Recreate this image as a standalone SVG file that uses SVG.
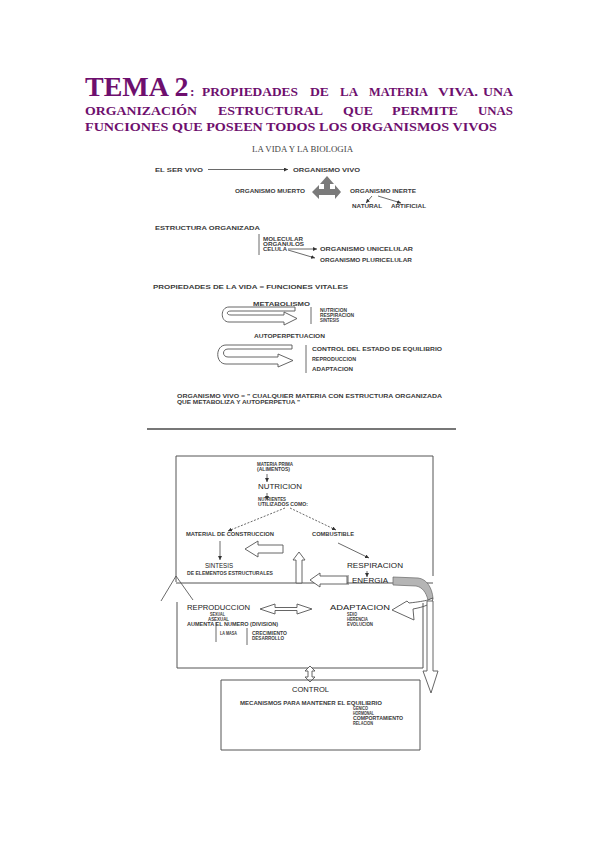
<svg xmlns="http://www.w3.org/2000/svg" width="599" height="848" viewBox="0 0 599 848">
<defs>
<style>
.tt{font-family:"Liberation Serif",serif;font-weight:bold;fill:#6e0f6e}
.s{font-family:"Liberation Sans",Arial,sans-serif;font-weight:bold;fill:#3a3a3a;font-size:6px}
.n{font-family:"Liberation Sans",Arial,sans-serif;fill:#222;font-size:8px}
.ln{stroke:#444;stroke-width:0.8;fill:none}
.bx{stroke:#555;stroke-width:1;fill:none}
.ho{stroke:#555;stroke-width:0.9;fill:#fff}
</style>
<marker id="ah" viewBox="0 0 6 6" refX="6" refY="3" markerWidth="4" markerHeight="4" orient="auto" markerUnits="userSpaceOnUse"><path d="M0,0L6,3L0,6z" fill="#333"/></marker>
</defs>
<rect width="599" height="848" fill="#fff"/>

<g id="title">
<text class="tt" x="85" y="96" font-size="28">TEMA 2</text>
<text class="tt" font-size="13.5" y="96"><tspan x="190">:</tspan><tspan x="202" textLength="96" lengthAdjust="spacingAndGlyphs">PROPIEDADES</tspan><tspan x="310" textLength="19" lengthAdjust="spacingAndGlyphs">DE</tspan><tspan x="340" textLength="18" lengthAdjust="spacingAndGlyphs">LA</tspan><tspan x="369" textLength="59" lengthAdjust="spacingAndGlyphs">MATERIA</tspan><tspan x="438" textLength="40" lengthAdjust="spacingAndGlyphs">VIVA.</tspan><tspan x="483" textLength="30" lengthAdjust="spacingAndGlyphs">UNA</tspan></text>
<text class="tt" font-size="13.5" y="115"><tspan x="85" textLength="112" lengthAdjust="spacingAndGlyphs">ORGANIZACIÓN</tspan><tspan x="218" textLength="105" lengthAdjust="spacingAndGlyphs">ESTRUCTURAL</tspan><tspan x="343" textLength="30" lengthAdjust="spacingAndGlyphs">QUE</tspan><tspan x="392" textLength="66" lengthAdjust="spacingAndGlyphs">PERMITE</tspan><tspan x="478" textLength="35" lengthAdjust="spacingAndGlyphs">UNAS</tspan></text>
<text class="tt" font-size="13.5" x="85" y="131" textLength="412" lengthAdjust="spacingAndGlyphs">FUNCIONES QUE POSEEN TODOS LOS ORGANISMOS VIVOS</text>
</g>

<g id="connectors">
<line class="ln" x1="208" y1="169.5" x2="288" y2="169.5" marker-end="url(#ah)"/>
<line class="ln" x1="372" y1="196" x2="366" y2="203" marker-end="url(#ah)"/>
<line class="ln" x1="378" y1="196" x2="401" y2="203" marker-end="url(#ah)"/>
<line class="ln" x1="259" y1="234" x2="259" y2="255"/>
<line class="ln" x1="288" y1="249" x2="317" y2="249" marker-end="url(#ah)"/>
<line class="ln" x1="288" y1="250" x2="315" y2="258" marker-end="url(#ah)"/>
<line class="ln" x1="311" y1="307" x2="311" y2="324"/>
<line class="ln" x1="306" y1="345" x2="306" y2="373"/>
<line x1="147" y1="429" x2="456" y2="429" stroke="#777" stroke-width="2"/>
<line class="ln" x1="267" y1="474" x2="267" y2="482" marker-end="url(#ah)"/>
<line class="ln" x1="267" y1="493" x2="267" y2="500" marker-end="url(#ah)"/>
<line class="ln" x1="285" y1="508" x2="228" y2="531" stroke-dasharray="2,1.5" marker-end="url(#ah)"/>
<line class="ln" x1="290" y1="508" x2="336" y2="530" stroke-dasharray="2,1.5" marker-end="url(#ah)"/>
<line class="ln" x1="220" y1="541" x2="220" y2="560" marker-end="url(#ah)"/>
<line class="ln" x1="338" y1="543" x2="369" y2="558" marker-end="url(#ah)"/>
<line class="ln" x1="367" y1="571" x2="367" y2="577" marker-end="url(#ah)"/>
<line class="ln" x1="348" y1="575" x2="348" y2="585"/>
<line class="ln" x1="216" y1="622" x2="216" y2="642"/>
<line class="ln" x1="247" y1="628" x2="247" y2="645"/>
<line class="ln" x1="176" y1="576" x2="161" y2="601"/>
<line class="ln" x1="176" y1="576" x2="193" y2="600"/>
</g>

<g id="fig1">
<text x="252" y="152" font-family="Liberation Serif,serif" font-size="8" fill="#444" textLength="101" lengthAdjust="spacingAndGlyphs">LA VIDA Y LA BIOLOGIA</text>
<g id="n-servivo"><text class="s" x="155" y="172" textLength="48" lengthAdjust="spacingAndGlyphs">EL SER VIVO</text></g>
<g id="n-orgvivo"><text class="s" x="293" y="172" textLength="67" lengthAdjust="spacingAndGlyphs">ORGANISMO VIVO</text></g>
<g id="cross"><path d="M327,176L334,184L330,184L330,189L335,189L335,185L341,192L335,199L335,195L319,195L319,199L312,192L319,185L319,189L324,189L324,184L320,184Z" fill="#7a7a7a"/></g>
<g id="n-muerto"><text class="s" x="235" y="193" textLength="70" lengthAdjust="spacingAndGlyphs">ORGANISMO MUERTO</text></g>
<g id="n-inerte"><text class="s" x="350" y="193" textLength="66" lengthAdjust="spacingAndGlyphs">ORGANISMO INERTE</text></g>
<g id="n-natural"><text class="s" x="352" y="208" textLength="30" lengthAdjust="spacingAndGlyphs">NATURAL</text></g>
<g id="n-artificial"><text class="s" x="391" y="208" textLength="35" lengthAdjust="spacingAndGlyphs">ARTIFICIAL</text></g>
<g id="n-estructura"><text class="s" x="155" y="230" textLength="105" lengthAdjust="spacingAndGlyphs">ESTRUCTURA ORGANIZADA</text></g>
<g id="n-niveles">
<text class="s" x="263" y="241" textLength="40" lengthAdjust="spacingAndGlyphs">MOLECULAR</text>
<text class="s" x="263" y="246" textLength="41" lengthAdjust="spacingAndGlyphs">ORGANULOS</text>
<text class="s" x="263" y="251" textLength="24" lengthAdjust="spacingAndGlyphs">CELULA</text>
</g>
<g id="n-uni"><text class="s" x="320" y="251" textLength="93" lengthAdjust="spacingAndGlyphs">ORGANISMO UNICELULAR</text></g>
<g id="n-pluri"><text class="s" x="320" y="262" textLength="92" lengthAdjust="spacingAndGlyphs">ORGANISMO PLURICELULAR</text></g>
<g id="n-propiedades"><text class="s" x="153" y="289" textLength="195" lengthAdjust="spacingAndGlyphs">PROPIEDADES DE LA VIDA  =  FUNCIONES VITALES</text></g>
<g id="n-metabolismo">
<text class="s" x="253" y="306" font-size="7" textLength="57" lengthAdjust="spacingAndGlyphs">METABOLISMO</text>
<path class="ho" d="M295,307L229,307C220,307 220,322 229,322L284,322L284,325L297,318.5L284,312L284,315L231,315C226,315 226,311 231,311L295,311Z" stroke="#888"/>
<text class="s" x="320" y="312" font-size="5" textLength="27" lengthAdjust="spacingAndGlyphs">NUTRICION</text>
<text class="s" x="320" y="317" font-size="5" textLength="34" lengthAdjust="spacingAndGlyphs">RESPIRACION</text>
<text class="s" x="320" y="322" font-size="5" textLength="19" lengthAdjust="spacingAndGlyphs">SINTESIS</text>
</g>
<g id="n-autoperpetuacion">
<text class="s" x="254" y="338" font-size="7" textLength="71" lengthAdjust="spacingAndGlyphs">AUTOPERPETUACION</text>
<path class="ho" d="M292,345L226,345C215,345 215,364 226,364L278,364L278,367L293,360.5L278,354L278,357L228,357C222,357 222,349 228,349L292,349Z" stroke="#888"/>
<text class="s" x="312" y="351" textLength="130" lengthAdjust="spacingAndGlyphs">CONTROL  DEL  ESTADO DE EQUILIBRIO</text>
<text class="s" x="312" y="361" textLength="44" lengthAdjust="spacingAndGlyphs">REPRODUCCION</text>
<text class="s" x="312" y="371" textLength="41" lengthAdjust="spacingAndGlyphs">ADAPTACION</text>
</g>
<g id="n-definicion">
<text class="s" x="177" y="398" textLength="265" lengthAdjust="spacingAndGlyphs">ORGANISMO VIVO = " CUALQUIER MATERIA CON ESTRUCTURA ORGANIZADA</text>
<text class="s" x="177" y="404" textLength="123" lengthAdjust="spacingAndGlyphs">QUE   METABOLIZA Y AUTOPERPETUA "</text>
</g>
</g>

<g id="fig2">
<g id="box1"><path class="bx" d="M176,582L176,456L433,456L433,576M176,583L433,583"/></g>
<g id="n-materia">
<text class="s" x="257" y="466" font-size="5" textLength="36" lengthAdjust="spacingAndGlyphs">MATERIA PRIMA</text>
<text class="s" x="257" y="471" font-size="5" textLength="33" lengthAdjust="spacingAndGlyphs">(ALIMENTOS)</text>
</g>
<g id="n-nutricion"><text class="n" x="258" y="489" textLength="44" lengthAdjust="spacingAndGlyphs">NUTRICION</text></g>
<g id="n-nutrientes">
<text class="s" x="258" y="501" font-size="5" textLength="28" lengthAdjust="spacingAndGlyphs">NUTRIENTES</text>
<text class="s" x="258" y="506" font-size="5" textLength="50" lengthAdjust="spacingAndGlyphs">UTILIZADOS COMO:</text>
</g>
<g id="n-material"><text class="s" x="186" y="536" font-size="5.5" textLength="88" lengthAdjust="spacingAndGlyphs">MATERIAL DE CONSTRUCCION</text></g>
<g id="n-combustible"><text class="s" x="312" y="536" font-size="5.5" textLength="42" lengthAdjust="spacingAndGlyphs">COMBUSTIBLE</text></g>
<g id="a-left1"><path class="ho" d="M245,549L258,541L258,545L283,545L283,553L258,553L258,557Z"/></g>
<g id="n-sintesis">
<text class="n" x="205" y="568" textLength="28" lengthAdjust="spacingAndGlyphs">SINTESIS</text>
<text class="s" x="187" y="575" font-size="5.5" textLength="86" lengthAdjust="spacingAndGlyphs">DE ELEMENTOS ESTRUCTURALES</text>
</g>
<g id="a-up"><path class="ho" d="M299,552L305,560L302,560L302,583L296,583L296,560L293,560Z"/></g>
<g id="n-respiracion"><text class="n" x="347" y="568" textLength="56" lengthAdjust="spacingAndGlyphs">RESPIRACION</text></g>
<g id="n-energia"><text class="n" x="352" y="583" font-size="7" textLength="36" lengthAdjust="spacingAndGlyphs">ENERGIA</text></g>
<g id="a-left2"><path class="ho" d="M310,580L320,573L320,576L347,576L347,584L320,584L320,587Z"/></g>
<g id="a-curve">
<path d="M393,577L418,578C427,579 432,588 433,598L428,600C426,592 422,587 416,586L393,585Z" fill="#b5b5b5" stroke="#666" stroke-width="0.7"/>
<path class="ho" d="M433,598C433,604 424,607 413,609L414,620L392,610L407,601L409,603C418,602 424,601 428,600Z"/>
</g>
<g id="a-down"><path class="ho" d="M427,601L433,601L433,671L438,671L431,693L423,671L427,671Z"/></g>
<g id="box2"><path class="bx" d="M177,602L177,668L423,668L423,603"/></g>
<g id="n-reproduccion">
<text class="n" x="187" y="609.5" font-size="7" textLength="63" lengthAdjust="spacingAndGlyphs">REPRODUCCION</text>
<text class="s" x="210" y="615.5" font-size="4.5" textLength="15" lengthAdjust="spacingAndGlyphs">SEXUAL</text>
<text class="s" x="208" y="620.5" font-size="4.5" textLength="21" lengthAdjust="spacingAndGlyphs">ASEXUAL</text>
<text class="s" x="187" y="626" font-size="5" textLength="91" lengthAdjust="spacingAndGlyphs">AUMENTA EL NUMERO (DIVISION)</text>
<text class="s" x="220" y="635" font-size="5" textLength="17" lengthAdjust="spacingAndGlyphs">LA MASA</text>
<text class="s" x="252" y="635" font-size="5" textLength="35" lengthAdjust="spacingAndGlyphs">CRECIMIENTO</text>
<text class="s" x="252" y="640" font-size="5" textLength="32" lengthAdjust="spacingAndGlyphs">DESARROLLO</text>
</g>
<g id="a-double"><path class="ho" d="M260,609L275,604L275,607.5L297,607.5L297,604L312,609L297,614L297,610.5L275,610.5L275,614Z"/></g>
<g id="n-adaptacion">
<text class="n" x="330" y="609.5" font-size="7" textLength="60" lengthAdjust="spacingAndGlyphs">ADAPTACION</text>
<text class="s" x="347" y="615.5" font-size="4.5" textLength="10" lengthAdjust="spacingAndGlyphs">SEXO</text>
<text class="s" x="347" y="620.5" font-size="4.5" textLength="21" lengthAdjust="spacingAndGlyphs">HERENCIA</text>
<text class="s" x="347" y="626" font-size="4.5" textLength="26" lengthAdjust="spacingAndGlyphs">EVOLUCION</text>
</g>
<g id="a-vdouble"><path class="ho" d="M310,666L315,671L312,671L312,677L315,677L310,682L305,677L308,677L308,671L305,671Z"/></g>
<g id="box3"><path class="bx" d="M221,680L420,680L420,750L221,750Z"/></g>
<g id="n-control">
<text class="n" x="292" y="692" textLength="37" lengthAdjust="spacingAndGlyphs">CONTROL</text>
<text class="s" x="240" y="705" font-size="5.5" textLength="142" lengthAdjust="spacingAndGlyphs">MECANISMOS PARA MANTENER EL EQUILIBRIO</text>
<text class="s" x="353" y="710" font-size="5" textLength="15" lengthAdjust="spacingAndGlyphs">GENICO</text>
<text class="s" x="353" y="715" font-size="5" textLength="21" lengthAdjust="spacingAndGlyphs">HORMONAL</text>
<text class="s" x="353" y="720" font-size="5" textLength="50" lengthAdjust="spacingAndGlyphs">COMPORTAMIENTO</text>
<text class="s" x="353" y="725" font-size="5" textLength="20" lengthAdjust="spacingAndGlyphs">RELACION</text>
</g>
</g>
</svg>
